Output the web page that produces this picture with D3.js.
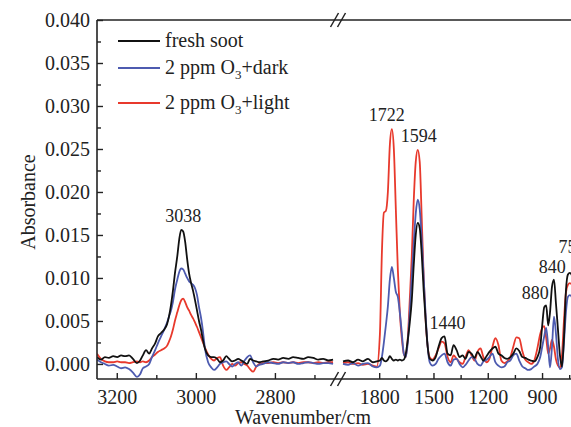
<!DOCTYPE html>
<html>
<head>
<meta charset="utf-8">
<script src="https://cdn.jsdelivr.net/npm/d3@7"></script>
<style>
  html, body { margin: 0; padding: 0; background: #fff; }
  svg { display: block; }
  text { font-family: "Liberation Serif", "Times New Roman", serif; fill: #222; }
</style>
</head>
<body>
<svg id="chart" width="571" height="427"></svg>
<script>
// ---------------- data ----------------
const wnLeft = [3250,3240,3230,3220,3209,3199,3189,3179,3169,3159,3149,3141,3134,3126,3118,3111,3103,3096,3088,3080,3073,3068,3063,3058,3053,3047,3042,3037,3032,3027,3022,3017,3012,3007,3002,2997,2992,2987,2982,2977,2969,2961,2954,2946,2939,2931,2923,2916,2908,2901,2893,2885,2878,2870,2863,2855,2847,2840,2830,2817,2804,2792,2779,2766,2754,2741,2728,2716,2703,2690,2678,2665,2653];
const freshLeft = [0.0008,0.0005,0.0008,0.0007,0.0009,0.0008,0.0010,0.0009,0.0010,0.0006,0.0001,0.0004,0.0010,0.0016,0.0012,0.0018,0.0024,0.0032,0.0036,0.0040,0.0046,0.0055,0.0068,0.0085,0.0105,0.0125,0.0145,0.0156,0.0154,0.0142,0.0122,0.0105,0.0094,0.0085,0.0074,0.0062,0.0050,0.0040,0.0028,0.0018,0.0010,0.0008,0.0008,0.0006,0.0002,0.0004,0.0009,0.0006,0.0003,0.0004,0.0006,0.0004,0.0002,0.0000,0.0006,0.0004,0.0003,0.0002,0.0003,0.0004,0.0006,0.0005,0.0007,0.0006,0.0008,0.0007,0.0006,0.0008,0.0007,0.0005,0.0006,0.0004,0.0005];
const darkLeft = [0.0005,0.0002,0.0000,-0.0002,-0.0001,-0.0003,-0.0005,-0.0004,-0.0006,-0.0010,-0.0015,-0.0012,-0.0005,-0.0003,0.0000,0.0008,0.0016,0.0024,0.0032,0.0040,0.0048,0.0055,0.0062,0.0072,0.0086,0.0098,0.0107,0.0111,0.0110,0.0105,0.0100,0.0096,0.0094,0.0092,0.0088,0.0080,0.0066,0.0054,0.0038,0.0018,0.0002,-0.0004,-0.0007,-0.0004,0.0000,0.0002,0.0003,0.0000,-0.0003,0.0000,0.0002,-0.0002,0.0003,0.0008,0.0010,0.0002,-0.0003,-0.0001,0.0000,0.0002,0.0001,0.0000,0.0002,0.0001,0.0002,0.0000,0.0001,0.0002,0.0001,0.0000,0.0001,0.0001,0.0000];
const lightLeft = [0.0012,0.0006,0.0003,0.0002,0.0002,0.0003,0.0002,0.0002,0.0001,0.0002,0.0003,0.0002,0.0003,0.0002,0.0004,0.0008,0.0011,0.0014,0.0016,0.0018,0.0021,0.0026,0.0032,0.0040,0.0050,0.0060,0.0068,0.0074,0.0076,0.0072,0.0066,0.0062,0.0057,0.0053,0.0048,0.0043,0.0037,0.0031,0.0025,0.0019,0.0011,0.0006,0.0004,0.0007,0.0008,-0.0002,-0.0007,-0.0004,0.0000,-0.0002,0.0001,0.0002,0.0000,-0.0002,-0.0006,-0.0009,-0.0003,0.0000,0.0001,0.0001,0.0002,0.0001,0.0002,0.0001,0.0002,0.0001,0.0002,0.0002,0.0001,0.0002,0.0001,0.0002,0.0002];

const wnRight = [2000,1972,1945,1917,1890,1862,1835,1813,1796,1785,1774,1763,1752,1741,1730,1719,1708,1697,1686,1675,1664,1653,1642,1631,1620,1609,1598,1587,1576,1565,1554,1543,1532,1521,1505,1488,1472,1455,1439,1422,1405,1389,1372,1356,1339,1323,1306,1290,1273,1257,1240,1224,1207,1191,1174,1158,1141,1125,1108,1092,1075,1059,1042,1026,1009,993,976,960,943,926,910,899,888,877,866,856,845,834,823,812,801,790,779,768,757,746,729];
const freshRight = [0.0003,0.0004,0.0002,0.0005,0.0003,0.0006,0.0002,0.0003,0.0004,0.0007,0.0004,0.0003,0.0005,0.0009,0.0006,0.0004,0.0005,0.0004,0.0005,0.0004,0.0005,0.0012,0.0028,0.0048,0.0074,0.0115,0.0150,0.0164,0.0158,0.0128,0.0085,0.0050,0.0020,0.0006,0.0004,0.0008,0.0020,0.0030,0.0032,0.0012,0.0010,0.0022,0.0016,0.0008,0.0010,0.0006,0.0014,0.0012,0.0007,0.0014,0.0009,0.0004,0.0009,0.0014,0.0018,0.0020,0.0012,0.0010,0.0007,0.0006,0.0008,0.0012,0.0018,0.0015,0.0008,0.0007,0.0005,0.0004,0.0003,0.0008,0.0020,0.0045,0.0066,0.0068,0.0045,0.0060,0.0090,0.0098,0.0070,0.0040,0.0010,-0.0003,0.0030,0.0085,0.0104,0.0106,0.0100];
const darkRight = [0.0000,-0.0001,0.0001,-0.0002,0.0000,0.0001,-0.0003,-0.0004,-0.0002,0.0008,0.0025,0.0045,0.0067,0.0098,0.0113,0.0100,0.0084,0.0078,0.0060,0.0036,0.0012,0.0008,0.0025,0.0060,0.0101,0.0140,0.0175,0.0191,0.0180,0.0145,0.0100,0.0055,0.0020,0.0002,-0.0002,0.0000,0.0006,0.0010,0.0012,0.0002,-0.0002,0.0005,0.0006,0.0000,-0.0004,-0.0001,0.0004,0.0008,0.0006,0.0000,-0.0002,0.0003,0.0005,0.0008,0.0012,0.0002,-0.0002,-0.0004,-0.0003,0.0002,0.0004,0.0010,0.0012,0.0004,-0.0003,-0.0005,-0.0007,-0.0006,-0.0003,0.0000,0.0008,0.0020,0.0032,0.0042,0.0020,-0.0004,0.0020,0.0055,0.0035,0.0005,-0.0006,-0.0004,0.0025,0.0060,0.0078,0.0080,0.0075];
const lightRight = [0.0001,0.0002,0.0000,0.0001,-0.0001,0.0000,-0.0002,-0.0003,0.0035,0.0130,0.0176,0.0178,0.0200,0.0255,0.0273,0.0250,0.0180,0.0110,0.0060,0.0030,0.0012,0.0008,0.0030,0.0075,0.0125,0.0190,0.0235,0.0249,0.0235,0.0170,0.0100,0.0050,0.0020,0.0008,0.0005,0.0010,0.0018,0.0026,0.0024,0.0008,0.0002,0.0010,0.0006,0.0002,0.0000,0.0008,0.0016,0.0010,0.0004,0.0014,0.0018,0.0008,0.0002,0.0006,0.0020,0.0030,0.0022,0.0004,0.0001,0.0003,0.0008,0.0020,0.0031,0.0030,0.0015,0.0005,0.0002,0.0000,0.0004,0.0018,0.0035,0.0042,0.0044,0.0030,0.0012,0.0018,0.0028,0.0020,0.0005,-0.0002,-0.0004,0.0010,0.0050,0.0083,0.0092,0.0094,0.0090];

const seriesNames = ["fresh soot", "2 ppm O3+dark", "2 ppm O3+light"];
const seriesColors = ["#111111", "#4d5bb0", "#e8392c"];

const yTicks = [0, 0.005, 0.010, 0.015, 0.020, 0.025, 0.030, 0.035, 0.040];
const yMinorTicks = [0.0025, 0.0075, 0.0125, 0.0175, 0.0225, 0.0275, 0.0325, 0.0375];
const xLeftTicks = [3200, 3000, 2800];
const xLeftMinor = [3100, 2900, 2700];
const xRightTicks = [1800, 1500, 1200, 900];
const xRightMinor = [1650, 1350, 1050, 750];

const peakLabels = ["3038", "1722", "1594", "1440", "880", "840", "754"];
const peakLabelWn = [3032, 1758, 1582, 1422, 938, 844, 734];
const peakLabelAbs = [0.0165, 0.02825, 0.0258, 0.0041, 0.00755, 0.01058, 0.0129];
const peakSegment = ["L", "R", "R", "R", "R", "R", "R"];

// ---------------- chart ----------------
const svg = d3.select("#chart");
const W = 571, H = 427;
const plot = { left: 97, right: 571, top: 20, bottom: 379 };

const y = d3.scaleLinear().domain([-0.00175, 0.040]).range([plot.bottom, plot.top]);
const xL = d3.scaleLinear().domain([3250, 2643]).range([plot.left, 337]);
const xR = d3.scaleLinear().domain([2000, 740]).range([343, plot.right]);

svg.append("defs").append("clipPath").attr("id", "clip")
  .append("rect").attr("x", plot.left).attr("y", plot.top - 5)
  .attr("width", plot.right - plot.left).attr("height", plot.bottom - plot.top + 10);

const lineL = d3.line().x(d => xL(d[0])).y(d => y(d[1])).curve(d3.curveMonotoneX);
const lineR = d3.line().x(d => xR(d[0])).y(d => y(d[1])).curve(d3.curveMonotoneX);

const leftVals = [freshLeft, darkLeft, lightLeft];
const rightVals = [freshRight, darkRight, lightRight];
const gData = svg.append("g").attr("clip-path", "url(#clip)");
// draw in order: light (red), dark (blue), fresh (black) like reference stacking
[2, 1, 0].forEach(i => {
  gData.append("path")
    .datum(wnLeft.map((w, k) => [w, leftVals[i][k]]))
    .attr("d", lineL).attr("fill", "none")
    .attr("stroke", seriesColors[i]).attr("stroke-width", 1.8)
    .attr("stroke-linejoin", "round");
  gData.append("path")
    .datum(wnRight.map((w, k) => [w, rightVals[i][k]]))
    .attr("d", lineR).attr("fill", "none")
    .attr("stroke", seriesColors[i]).attr("stroke-width", 1.8)
    .attr("stroke-linejoin", "round");
});

// ---- axes ----
const axisColor = "#222";
function styleAxis(g) {
  g.select(".domain").remove();
  g.selectAll(".tick line").attr("stroke", axisColor).attr("stroke-width", 1.4);
  g.selectAll(".tick text").attr("font-size", 20).attr("fill", "#222")
    .attr("font-family", "'Liberation Serif', 'Times New Roman', serif");
}

// bottom axes
svg.append("g").attr("transform", `translate(0,${plot.bottom})`)
  .call(d3.axisBottom(xL).tickValues(xLeftTicks).tickSize(-6).tickPadding(11).tickFormat(d3.format("d")))
  .call(styleAxis);
svg.append("g").attr("transform", `translate(0,${plot.bottom})`)
  .call(d3.axisBottom(xL).tickValues(xLeftMinor).tickSize(-4).tickFormat(""))
  .call(styleAxis);
svg.append("g").attr("transform", `translate(0,${plot.bottom})`)
  .call(d3.axisBottom(xR).tickValues(xRightTicks).tickSize(-6).tickPadding(11).tickFormat(d3.format("d")))
  .call(styleAxis);
svg.append("g").attr("transform", `translate(0,${plot.bottom})`)
  .call(d3.axisBottom(xR).tickValues(xRightMinor).tickSize(-4).tickFormat(""))
  .call(styleAxis);

// left axis
svg.append("g").attr("transform", `translate(${plot.left},0)`)
  .call(d3.axisLeft(y).tickValues(yTicks).tickSize(-6).tickPadding(7).tickFormat(d3.format(".3f")))
  .call(styleAxis);
svg.append("g").attr("transform", `translate(${plot.left},0)`)
  .call(d3.axisLeft(y).tickValues(yMinorTicks).tickSize(-4).tickFormat(""))
  .call(styleAxis);

// frame lines
svg.append("line").attr("x1", plot.left).attr("x2", plot.left)
  .attr("y1", plot.top).attr("y2", plot.bottom)
  .attr("stroke", axisColor).attr("stroke-width", 1.6);
svg.append("line").attr("x1", plot.left).attr("x2", plot.right)
  .attr("y1", plot.bottom).attr("y2", plot.bottom)
  .attr("stroke", axisColor).attr("stroke-width", 1.6);
svg.append("line").attr("x1", plot.left).attr("x2", plot.right)
  .attr("y1", plot.top).attr("y2", plot.top)
  .attr("stroke", axisColor).attr("stroke-width", 1.6);

// break marks
const breakX = 338;
[plot.top, plot.bottom].forEach(yy => {
  [-3.5, 3.5].forEach(dx => {
    svg.append("line")
      .attr("x1", breakX + dx - 4).attr("y1", yy + 7)
      .attr("x2", breakX + dx + 4).attr("y2", yy - 7)
      .attr("stroke", axisColor).attr("stroke-width", 1.5);
  });
});

// axis titles
svg.append("text").attr("x", 303).attr("y", 424)
  .attr("text-anchor", "middle").attr("font-size", 20).text("Wavenumber/cm");
svg.append("text")
  .attr("transform", "translate(35,202) rotate(-90)")
  .attr("text-anchor", "middle").attr("font-size", 20).text("Absorbance");

// peak labels
peakLabels.forEach((lab, i) => {
  const sx = peakSegment[i] === "L" ? xL : xR;
  svg.append("text")
    .attr("x", sx(peakLabelWn[i])).attr("y", y(peakLabelAbs[i]))
    .attr("text-anchor", "middle").attr("font-size", 18).text(lab);
});

// legend
const legY = [41, 68, 103];
seriesNames.forEach((name, i) => {
  const g = svg.append("g");
  g.append("line").attr("x1", 118).attr("x2", 160)
    .attr("y1", legY[i]).attr("y2", legY[i])
    .attr("stroke", seriesColors[i]).attr("stroke-width", 1.8);
  const t = g.append("text").attr("x", 165).attr("y", legY[i] + 6).attr("font-size", 20);
  if (name.includes("O3")) {
    const [a, b] = name.split("O3");
    t.append("tspan").text(a + "O");
    t.append("tspan").attr("dy", 5).attr("font-size", 13).text("3");
    t.append("tspan").attr("dy", -5).text(b);
  } else {
    t.text(name);
  }
});
</script>
</body>
</html>
